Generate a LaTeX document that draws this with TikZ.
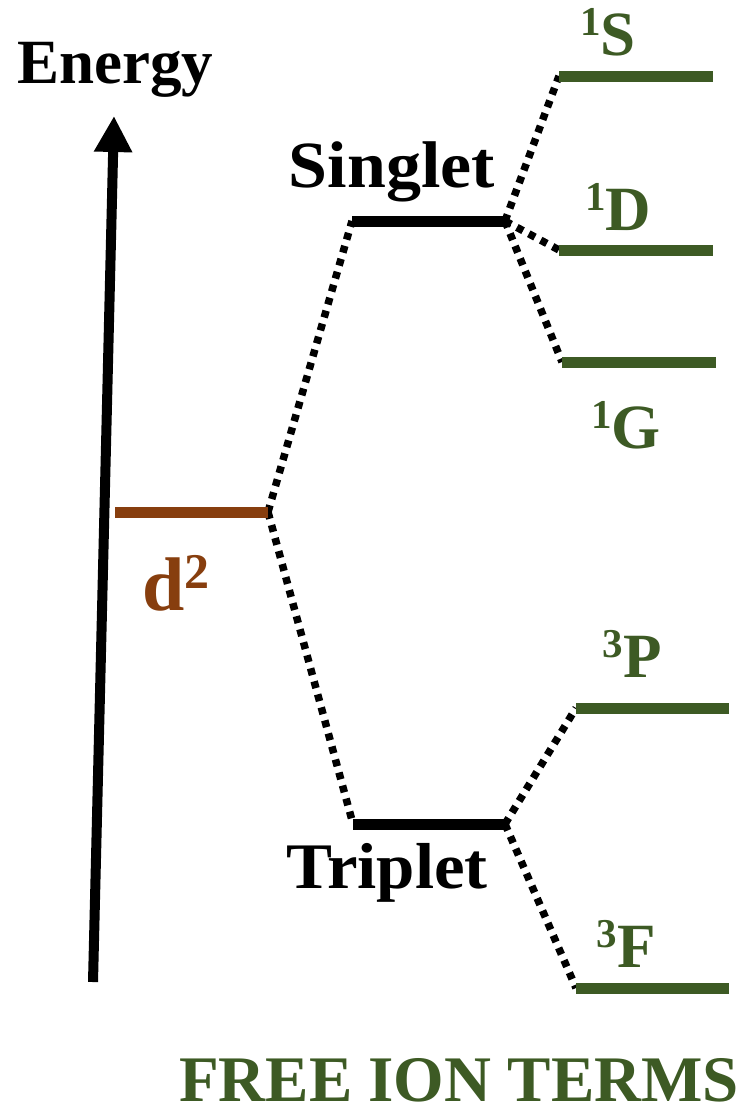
\documentclass[tikz,border=0pt]{standalone}
\usepackage{fontspec}
\setmainfont{Liberation Serif}
\usetikzlibrary{arrows.meta}
\definecolor{termgreen}{HTML}{3D5A24}
\definecolor{dbrown}{HTML}{873E0E}
\newcommand{\fs}[1]{\fontsize{#1}{#1}\selectfont}
\begin{document}
\begin{tikzpicture}[x=1pt,y=-1pt,
  level/.style={line width=11pt},
  conn/.style={line width=7.5pt,dash pattern=on 7pt off 6.5pt},
  lbl/.style={anchor=base,inner sep=0pt,font=\bfseries\fs{63}},
  term/.style={lbl,text=termgreen}]
\useasboundingbox (0,0) rectangle (745,1114);
% arrow
\coordinate (ab) at (93,982);
\coordinate (at) at (114,116);
\draw[line width=10pt,-{Triangle[length=36pt,width=36pt]}] (ab) -- (at);
\node[lbl] (energy) at (115,83) {Energy};
% level endpoints
\coordinate (d2L) at (115,512); \coordinate (d2R) at (268,512);
\coordinate (sgL) at (352,221); \coordinate (sgR) at (505,221);
\coordinate (tpL) at (353,824); \coordinate (tpR) at (505,824);
\coordinate (sL) at (559,76);  \coordinate (sR) at (713,76);
\coordinate (dL) at (559,250); \coordinate (dR) at (713,250);
\coordinate (gL) at (562,362); \coordinate (gR) at (716,362);
\coordinate (pL) at (576,708); \coordinate (pR) at (729,708);
\coordinate (fL) at (576,988); \coordinate (fR) at (729,988);
% connectors
\draw[conn] (d2R) -- (sgL);
\draw[conn] (d2R) -- (tpL);
\draw[conn] (sgR) -- (sL);
\draw[conn] (sgR) -- (dL);
\draw[conn] (sgR) -- (gL);
\draw[conn] (tpR) -- (pL);
\draw[conn] (tpR) -- (fL);
% levels
\draw[level,dbrown] (d2L) -- (d2R);
\draw[level] (sgL) -- (sgR);
\draw[level] (tpL) -- (tpR);
\draw[level,termgreen] (sL) -- (sR);
\draw[level,termgreen] (dL) -- (dR);
\draw[level,termgreen] (gL) -- (gR);
\draw[level,termgreen] (pL) -- (pR);
\draw[level,termgreen] (fL) -- (fR);
% labels
\node[lbl] (singlet) at (392,187) {\scalebox{1.06}[1]{\fs{66}Singlet}};
\node[lbl] (triplet) at (387,888) {\scalebox{1.06}[1]{\fs{65}Triplet}};
\node[lbl,text=dbrown,font=\bfseries\fs{76}] (d2) at (176,610) {d\raisebox{22pt}{\fs{50}2}};
\node[term] (tS) at (608,55) {\raisebox{20pt}{\fs{41}1}S};
\node[term] (tD) at (618,230) {\raisebox{20pt}{\fs{41}1}D};
\node[term] (tG) at (626,448) {\raisebox{20pt}{\fs{41}1}G};
\node[term] (tP) at (632,677) {\raisebox{20pt}{\fs{41}3}P};
\node[term] (tF) at (626,967) {\raisebox{20pt}{\fs{41}3}F};
\node[term,font=\bfseries\fs{65}] (title) at (459,1101) {FREE ION TERMS};
\end{tikzpicture}
\end{document}
